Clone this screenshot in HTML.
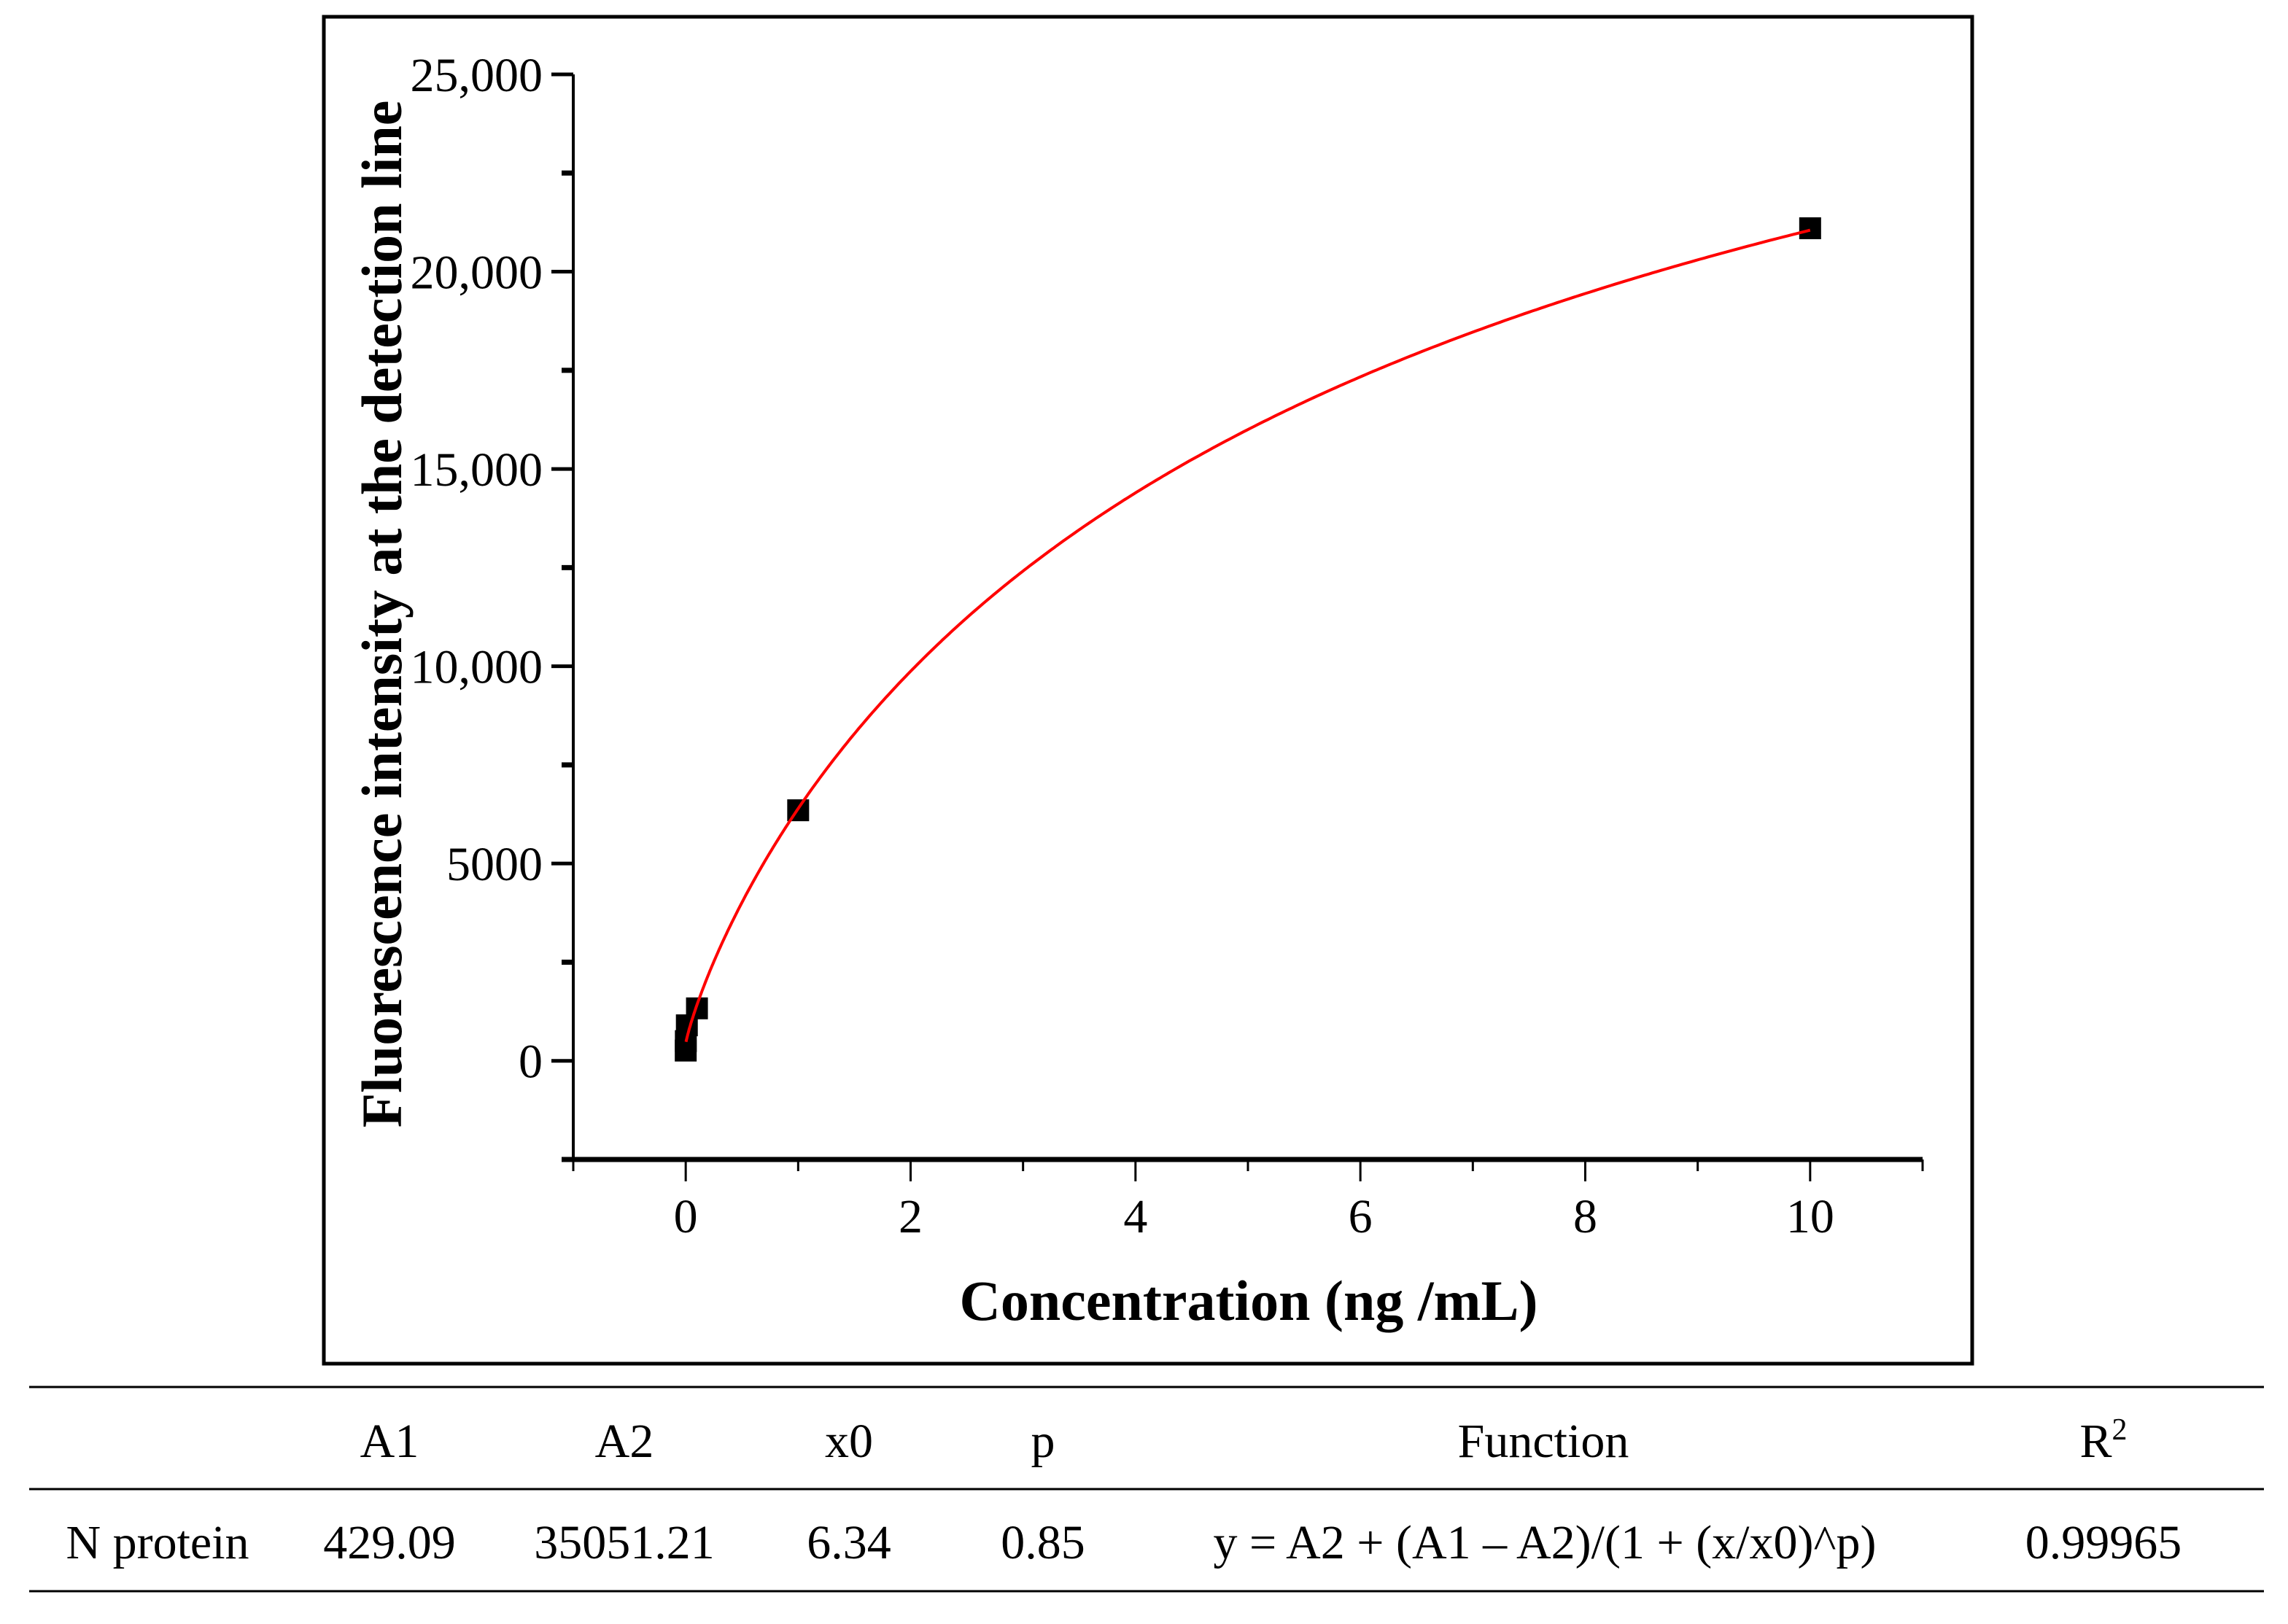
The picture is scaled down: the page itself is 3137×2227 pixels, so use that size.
<!DOCTYPE html>
<html><head><meta charset="utf-8"><style>
body{margin:0;background:#fff}
svg text{font-family:"Liberation Serif",serif}
</style></head><body>
<svg width="3137" height="2222" viewBox="0 0 3137 2222" xmlns="http://www.w3.org/2000/svg">
<rect x="444" y="23" width="2260" height="1847" fill="none" stroke="#000" stroke-width="5"/>
<g id="plot"></g>
<text x="1712" y="1810" font-size="78" font-weight="bold" text-anchor="middle">Concentration (ng /mL)</text>
<text transform="translate(550,842) rotate(-90)" font-size="78" font-weight="bold" text-anchor="middle">Fluorescence intensity at the detection line</text>
<g font-size="66">
<line x1="40" y1="1902" x2="3104" y2="1902" stroke="#000" stroke-width="3"/>
<line x1="40" y1="2042" x2="3104" y2="2042" stroke="#000" stroke-width="3"/>
<line x1="40" y1="2182" x2="3104" y2="2182" stroke="#000" stroke-width="3"/>
<g text-anchor="middle">
<text x="534" y="1998">A1</text>
<text x="856" y="1998">A2</text>
<text x="1164" y="1998">x0</text>
<text x="1430" y="1998">p</text>
<text x="2116" y="1998">Function</text>
<text x="2884" y="1998">R<tspan font-size="42" dy="-24">2</tspan></text>
</g>
<g text-anchor="middle">
<text x="216" y="2137">N protein</text>
<text x="534" y="2137">429.09</text>
<text x="856" y="2137">35051.21</text>
<text x="1164" y="2137">6.34</text>
<text x="1430" y="2137">0.85</text>
<text x="2118" y="2137">y = A2 + (A1 – A2)/(1 + (x/x0)^p)</text>
<text x="2884" y="2137">0.99965</text>
</g>
</g>
</svg>
<script>
const xData=[0,0.001,0.01,0.1,1,10];
const yData=[260,500,900,1330,6350,21100];
const fitA1=429.09, fitA2=35051.21, fitX0=6.34, fitP=0.85;
const xTicks=[0,2,4,6,8,10];
const yTicks=[0,5000,10000,15000,20000,25000];
const yTickLabels=["0","5000","10,000","15,000","20,000","25,000"];
const X0=786,X1=2636,XMIN=-1,XMAX=11;
const Y0=1590,Y1=102,YMIN=-2500,YMAX=25000;
const sx=v=>X0+(v-XMIN)/(XMAX-XMIN)*(X1-X0);
const sy=v=>Y0-(v-YMIN)/(YMAX-YMIN)*(Y0-Y1);
const NS="http://www.w3.org/2000/svg";
const g=document.getElementById('plot');
function mk(t,a){const e=document.createElementNS(NS,t);for(const k in a)e.setAttribute(k,a[k]);g.appendChild(e);return e;}
let e;
e=mk('line',{x1:X0,y1:Y1,x2:X0,y2:Y0,stroke:'#000','stroke-width':4});


e=mk('line',{x1:X0-4,y1:Y0,x2:X1,y2:Y0,stroke:'#000','stroke-width':7});


for(let v=XMIN;v<=XMAX;v++){
 const major=xTicks.includes(v);
 e=mk('line',{x1:sx(v),y1:Y0,x2:sx(v),y2:Y0+(major?30:16),stroke:'#000','stroke-width':3});
 
 
}
xTicks.forEach(v=>{
 e=mk('text',{x:sx(v),y:Y0+100,'font-size':66,'text-anchor':'middle'});e.textContent=String(v);
 
 
});
for(let v=YMIN;v<=YMAX;v+=2500){
 const major=yTicks.includes(v);
 e=mk('line',{x1:X0-(major?30:16),y1:sy(v),x2:X0,y2:sy(v),stroke:'#000','stroke-width':major?5:7});
 
 
}
yTicks.forEach((v,i)=>{
 e=mk('text',{x:X0-42,y:sy(v)+23,'font-size':66,'text-anchor':'end'});e.textContent=yTickLabels[i];
 
 
});
let d='';
for(let i=0;i<=400;i++){const x=0.003+(10-0.003)*Math.pow(i/400,1.6);
 const y=fitA2+(fitA1-fitA2)/(1+Math.pow(x/fitX0,fitP));
 d+=(i?'L':'M')+sx(x).toFixed(1)+','+sy(y).toFixed(1);}
xData.forEach((x,i)=>{
 e=mk('rect',{x:sx(x)-15,y:sy(yData[i])-15,width:30,height:30,fill:'#000'});
 
 
});
e=mk('path',{d:d,fill:'none',stroke:'#ff0000','stroke-width':4});


</script>
</body></html>
